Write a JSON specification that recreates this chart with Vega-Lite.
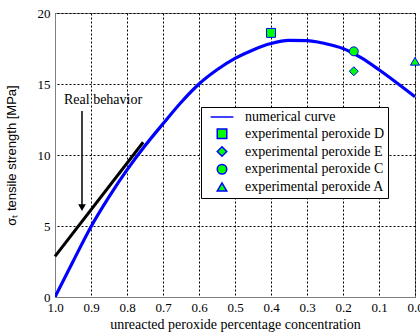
{
  "$schema": "https://vega.github.io/schema/vega-lite/v6.json",
  "width": 360,
  "height": 284,
  "autosize": {"type": "none"},
  "padding": {"left": 55, "top": 13, "right": 5, "bottom": 39},
  "background": "white",
  "config": {
    "view": {"stroke": "#808080", "strokeWidth": 1}
  },
  "datasets": {
    "curve": [
      {"c": 1.0, "s": 0},
      {"c": 0.95, "s": 2.5},
      {"c": 0.9, "s": 4.95},
      {"c": 0.85, "s": 7.05},
      {"c": 0.8, "s": 8.95},
      {"c": 0.75, "s": 10.65},
      {"c": 0.7, "s": 12.2},
      {"c": 0.65, "s": 13.7},
      {"c": 0.6, "s": 15.0},
      {"c": 0.55, "s": 16.0},
      {"c": 0.5, "s": 16.8},
      {"c": 0.45, "s": 17.4},
      {"c": 0.4, "s": 17.85},
      {"c": 0.35, "s": 18.07},
      {"c": 0.3, "s": 18.06},
      {"c": 0.25, "s": 17.85},
      {"c": 0.2, "s": 17.5},
      {"c": 0.15, "s": 16.85},
      {"c": 0.1, "s": 16.0},
      {"c": 0.05, "s": 15.07},
      {"c": 0.0, "s": 14.1}
    ],
    "real": [
      {"c": 1.0, "s": 2.86},
      {"c": 0.755, "s": 10.9}
    ],
    "markers": [
      {"c": 0.4, "s": 18.6, "series": "experimental peroxide D"},
      {"c": 0.17, "s": 15.9, "series": "experimental peroxide E"},
      {"c": 0.17, "s": 17.3, "series": "experimental peroxide C"},
      {"c": 0.0, "s": 16.6, "series": "experimental peroxide A"}
    ],
    "arrow": [
      {"c": 0.925, "s": 13.1, "s2": 6.2}
    ],
    "head": [
      {"c": 0.925, "s": 6.3}
    ],
    "label": [
      {"c": 0.975, "s": 13.6, "text": "Real behavior"}
    ]
  },
  "encoding": {
    "x": {
      "field": "c", "type": "quantitative",
      "scale": {"domain": [0, 1], "reverse": true, "nice": false},
      "axis": {"values": [0, 0.1, 0.2, 0.3, 0.4, 0.5, 0.6, 0.7, 0.8, 0.9, 1.0], "format": ".1f", "labelPadding": 4,
               "grid": true, "gridColor": "#000000", "gridDash": [2, 2], "gridWidth": 1,
               "ticks": false, "labelOverlap": false, "labelFlush": false, "domainColor": "#808080",
               "labelFont": "Liberation Serif", "labelFontSize": 13, "labelColor": "#000000",
               "title": "unreacted peroxide percentage concentration", "titleFont": "Liberation Serif", "titleFontSize": 14, "titleFontWeight": "normal", "titleColor": "#000000", "titlePadding": 3}
    },
    "y": {
      "field": "s", "type": "quantitative",
      "scale": {"domain": [0, 20], "nice": false},
      "axis": {"values": [0, 5, 10, 15, 20], "labelPadding": 5,
               "grid": true, "gridColor": "#000000", "gridDash": [2, 2], "gridWidth": 1,
               "ticks": false, "labelOverlap": false, "labelFlush": false, "domainColor": "#808080",
               "labelFont": "Liberation Serif", "labelFontSize": 13, "labelColor": "#000000",
               "title": "σₜ tensile strength [MPa]", "titleFont": "Liberation Sans", "titleFontSize": 13, "titleFontWeight": "normal", "titleColor": "#000000", "titlePadding": 19}
    }
  },
  "layer": [
    {
      "data": {"name": "curve"},
      "mark": {"type": "line", "color": "#0000ff", "strokeWidth": 3.2, "interpolate": "monotone", "clip": true}
    },
    {
      "data": {"name": "real"},
      "mark": {"type": "line", "color": "#000000", "strokeWidth": 3}
    },
    {
      "data": {"name": "arrow"},
      "mark": {"type": "rule", "color": "#000000", "strokeWidth": 1.5},
      "encoding": {
        "y2": {"field": "s2"}
      }
    },
    {
      "data": {"name": "head"},
      "mark": {"type": "point", "shape": "triangle-down", "filled": true, "color": "#000000", "size": 60, "opacity": 1}
    },
    {
      "data": {"name": "label"},
      "mark": {"type": "text", "align": "left", "baseline": "alphabetic", "font": "Liberation Serif", "fontSize": 14, "color": "#000000"},
      "encoding": {
        "text": {"field": "text"}
      }
    },
    {
      "data": {"name": "markers"},
      "mark": {"type": "point", "filled": true, "fill": "#00ff00", "stroke": "#0000ff", "strokeWidth": 1, "size": 80, "opacity": 1, "clip": false},
      "encoding": {
        "shape": {
          "field": "series", "type": "nominal",
          "scale": {
            "domain": ["numerical curve", "experimental peroxide D", "experimental peroxide E", "experimental peroxide C", "experimental peroxide A"],
            "range": ["M-2.4,0H2.4", "square", "diamond", "circle", "triangle-up"]
          },
          "legend": {
            "title": null,
            "orient": "none",
            "legendX": 146,
            "legendY": 94,
            "padding": 3,
            "rowPadding": 1.75,
            "symbolSize": 90,
            "symbolOffset": 11,
            "labelOffset": 16,
            "labelFont": "Liberation Serif",
            "labelFontSize": 14,
            "labelColor": "#000000",
            "labelLimit": 300,
            "strokeColor": "#000000",
            "fillColor": "#ffffff",
            "cornerRadius": 0,
            "encode": {
              "symbols": {
                "update": {
                  "fill": {"signal": "datum.value === 'numerical curve' ? 'transparent' : '#00ff00'"},
                  "stroke": {"value": "#0000ff"},
                  "strokeWidth": {"signal": "datum.value === 'numerical curve' ? 3.2 : 1"},
                  "opacity": {"value": 1}
                }
              }
            }
          }
        }
      }
    }
  ]
}
